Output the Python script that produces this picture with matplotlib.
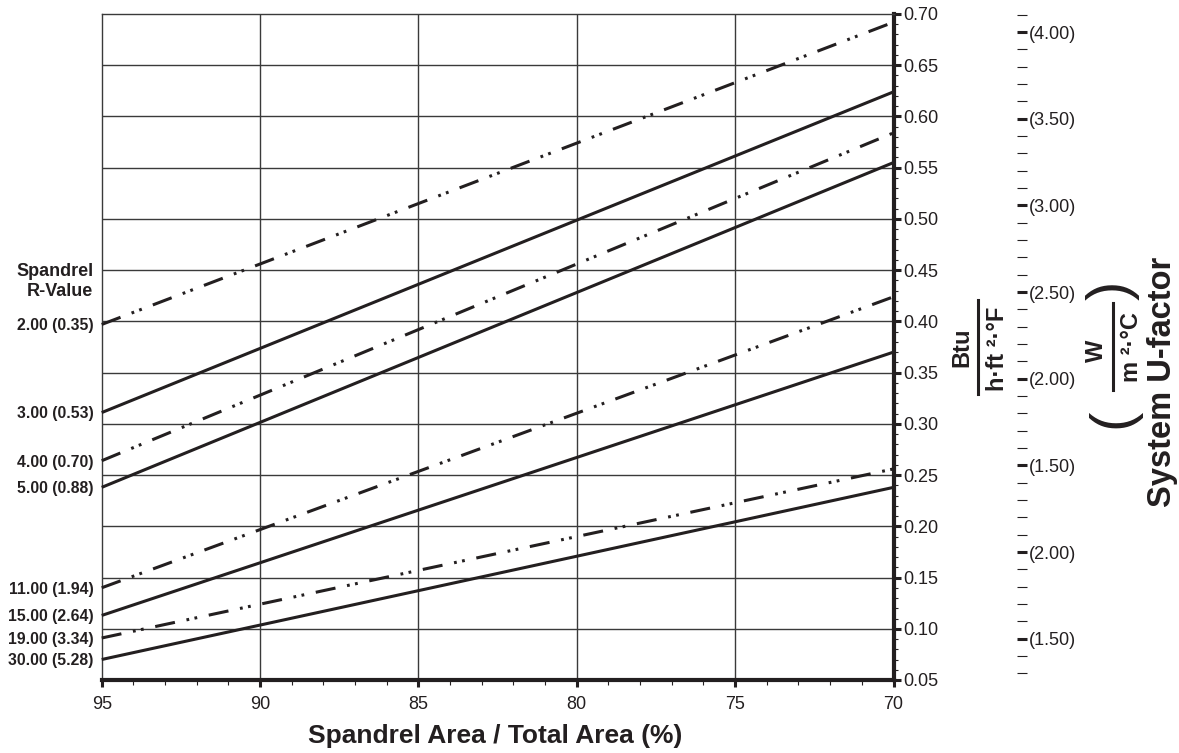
import matplotlib
matplotlib.use("Agg")
import matplotlib.pyplot as plt
from matplotlib.lines import Line2D
import numpy as np

plt.rcParams['font.family'] = ['Liberation Sans', 'DejaVu Sans']
plt.rcParams['lines.scale_dashes'] = False

# ---------------- data ----------------
area_pct = [95, 70]                      # spandrel area / total area (%)
r_labels = ["2.00 (0.35)", "3.00 (0.53)", "4.00 (0.70)", "5.00 (0.88)",
            "11.00 (1.94)", "15.00 (2.64)", "19.00 (3.34)", "30.00 (5.28)"]
u_at_95 = [0.397, 0.311, 0.264, 0.238, 0.140, 0.113, 0.091, 0.070]
u_at_70 = [0.692, 0.624, 0.584, 0.555, 0.424, 0.370, 0.256, 0.238]
dashed = [True, False, True, False, True, False, True, False]

x_ticks = [95, 90, 85, 80, 75, 70]
y_ticks = [0.05, 0.10, 0.15, 0.20, 0.25, 0.30, 0.35, 0.40, 0.45,
           0.50, 0.55, 0.60, 0.65, 0.70]
si_labels = ["(4.00)", "(3.50)", "(3.00)", "(2.50)", "(2.00)", "(1.50)",
             "(2.00)", "(1.50)"]
si_top = 0.6824      # position (in Btu scale) of first SI tick
si_step = 0.0846     # spacing between SI ticks (Btu scale)

# ---------------- figure ----------------
W, H = 1179, 753
fig = plt.figure(figsize=(W / 100, H / 100), dpi=100)

def fx(px):
    return px / W

def fy(py):
    return (H - py) / H

ax = fig.add_axes([fx(101.7), fy(680), fx(893.5) - fx(101.7), fy(14) - fy(680)])
ink = '#231f20'
gridc = '#3a3a3a'

ax.set_xlim(95, 70)
ax.set_ylim(0.05, 0.70)

for v in x_ticks[1:-1]:
    ax.axvline(v, color=gridc, lw=1.0, zorder=1)
for v in y_ticks[1:-1]:
    ax.axhline(v, color=gridc, lw=1.0, zorder=1)

dd = (0, (14.5, 8.5, 2.0, 3.9, 2.0, 8.5))
for lab, y0, y1, d in zip(r_labels, u_at_95, u_at_70, dashed):
    ax.plot(area_pct, [y0, y1], color=ink, lw=2.2,
            linestyle=dd if d else '-', dash_capstyle='butt',
            solid_capstyle='butt', zorder=3, clip_on=False)
    ax.annotate(lab, xy=(95, y0), xytext=(-6, -1), textcoords='offset points',
                ha='right', va='center', fontsize=11.3, fontweight='bold',
                color=ink, annotation_clip=False)

ax.annotate("Spandrel\nR-Value", xy=(95, 0.439), xytext=(-6, 0),
            textcoords='offset points', ha='right', va='center',
            multialignment='right', fontsize=13, fontweight='bold',
            color=ink, annotation_clip=False)

# spines
ax.spines['left'].set_linewidth(1.0)
ax.spines['left'].set_color(gridc)
ax.spines['top'].set_linewidth(1.0)
ax.spines['top'].set_color(gridc)
ax.spines['right'].set_linewidth(3.0)
ax.spines['right'].set_color(ink)
ax.spines['bottom'].set_linewidth(3.0)
ax.spines['bottom'].set_color(ink)

# secondary SI axis (created first, main axis ticks fixed afterwards)
ax2 = ax.twinx()
for s in ['left', 'top', 'bottom']:
    ax2.spines[s].set_visible(False)
ax2.spines['right'].set_position(('outward', (1022 - 893.5) * 0.72))
ax2.spines['right'].set_linewidth(0)
si_pos = [si_top - i * si_step for i in range(len(si_labels))]
ax2.set_yticks(si_pos)
ax2.set_yticklabels(si_labels)
minor_pos = [si_top + si_step / 5 * k
             for k in range(1, -(len(si_labels) - 1) * 5 - 3, -1)]
ax2.set_yticks(minor_pos, minor=True)
ax2.set_ylim(0.05, 0.70)
ax2.tick_params(axis='y', which='major', direction='inout', length=6.5, width=2.2,
                color=ink, labelsize=13, pad=1.5, labelcolor=ink)
ax2.tick_params(axis='y', which='minor', direction='inout', length=6.5, width=0.8,
                color=ink)

# main ticks
ax.set_xticks(x_ticks)
ax.set_xticklabels([str(v) for v in x_ticks])
ax.set_xticks(np.arange(70, 96, 1), minor=True)
ax.set_yticks(y_ticks)
ax.set_yticklabels([f"{v:.2f}" for v in y_ticks])
ax.set_yticks(np.arange(0.05, 0.7001, 0.01), minor=True)
ax.set_xlim(95, 70)
ax.set_ylim(0.05, 0.70)
ax.tick_params(axis='x', which='major', direction='out', length=5, width=2.2,
               color=ink, labelsize=13, pad=6.5, labelcolor=ink)
ax.tick_params(axis='x', which='minor', direction='out', length=3.5, width=0.8,
               color=ink)
ax.tick_params(axis='y', which='major', direction='out', length=5, width=2.2,
               color=ink, labelsize=13, pad=2, labelcolor=ink,
               left=False, right=True, labelleft=False, labelright=True)
ax.tick_params(axis='y', which='minor', direction='out', length=3, width=0.8,
               color=ink, left=False, right=True)

fig.text(fx(495), fy(736), "Spandrel Area / Total Area (%)", ha='center',
         va='center', fontsize=19, fontweight='bold', color=ink)

# axis titles (fractions)
fig.text(fx(962), fy(347), "Btu", rotation=90, ha='center', va='center',
         fontsize=17, fontweight='bold', color=ink)
fig.add_artist(Line2D([fx(978), fx(978)], [fy(300), fy(394)], color=ink, lw=2.2))
fig.text(fx(998), fy(349), "h·ft ²·°F", rotation=90, ha='center', va='center',
         fontsize=17, fontweight='bold', color=ink)

fig.text(fx(1096), fy(351), "W", rotation=90, ha='center', va='center',
         fontsize=17, fontweight='bold', color=ink)
fig.add_artist(Line2D([fx(1113), fx(1113)], [fy(303), fy(390)], color=ink, lw=2.2))
fig.text(fx(1131), fy(347), "m ²·°C", rotation=90, ha='center', va='center',
         fontsize=17, fontweight='bold', color=ink)
fig.text(fx(1113), fy(418), "(", rotation=90, ha='center', va='center',
         fontsize=42, color=ink)
fig.text(fx(1113), fy(290), ")", rotation=90, ha='center', va='center',
         fontsize=42, color=ink)
fig.text(fx(1162), fy(382), "System U-factor", rotation=90, ha='center',
         va='center', fontsize=23.5, fontweight='bold', color=ink)

fig.savefig("out.png", dpi=100)
